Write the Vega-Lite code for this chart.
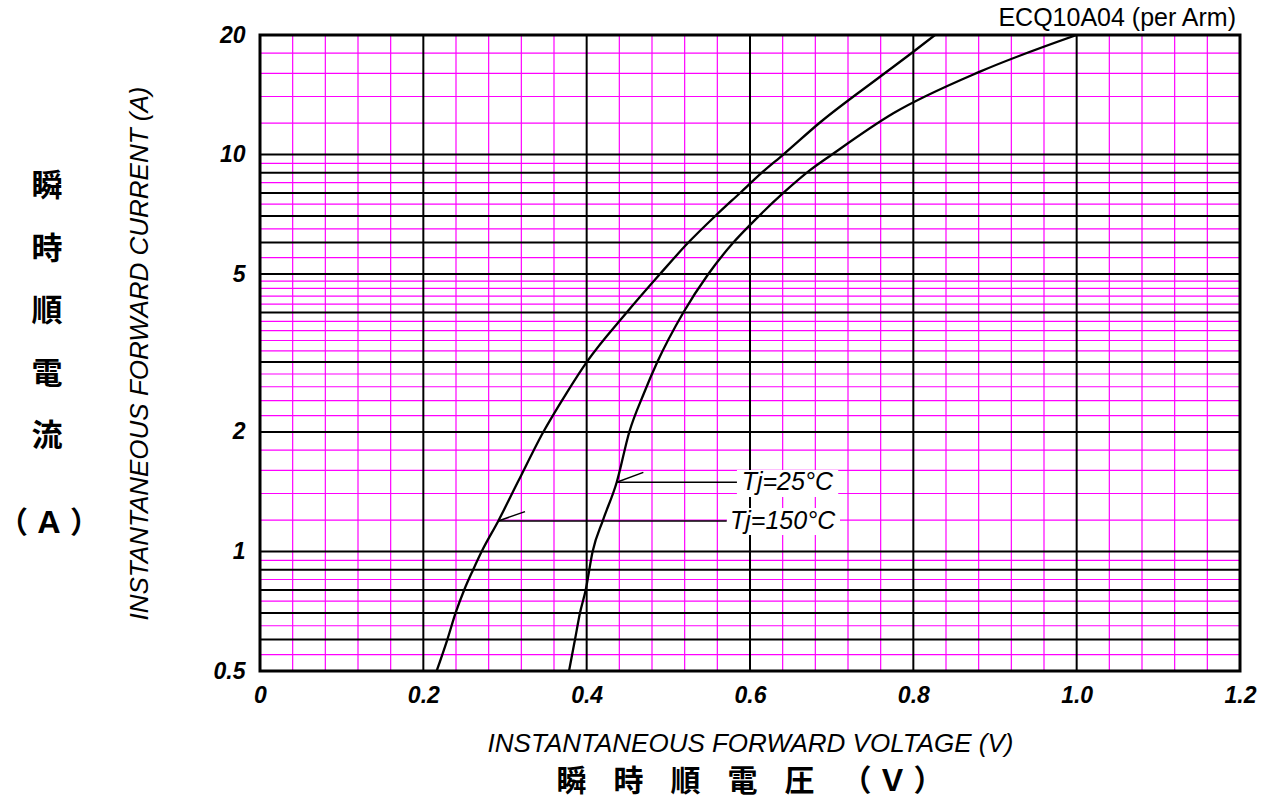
{
  "$schema": "https://vega.github.io/schema/vega-lite/v6.json",
  "width": 980,
  "height": 636,
  "autosize": {"type": "none"},
  "padding": {"left": 260, "top": 35, "right": 36, "bottom": 131},
  "background": "white",
  "title": {"text": "瞬\u2002\u2009\u2009時\u2002\u2009\u2009順\u2002\u2009\u2009電\u2002\u2009\u2009圧\u2002\u2009\u2009（\u2009Ｖ\u2009）", "orient": "bottom", "anchor": "middle", "frame": "group", "font": "Noto Sans CJK JP", "fontSize": 30, "fontWeight": "bold", "color": "black", "offset": 11},
  "config": {"view": {"stroke": null}, "axis": {"grid": false, "ticks": false, "domain": false}},
  "datasets": {
    "xminor": [{"v":0.04},{"v":0.08},{"v":0.12},{"v":0.16},{"v":0.24},{"v":0.28},{"v":0.32},{"v":0.36},{"v":0.44},{"v":0.48},{"v":0.52},{"v":0.56},{"v":0.64},{"v":0.68},{"v":0.72},{"v":0.76},{"v":0.84},{"v":0.88},{"v":0.92},{"v":0.96},{"v":1.04},{"v":1.08},{"v":1.12},{"v":1.16}],
    "xmajor": [{"v":0.2},{"v":0.4},{"v":0.6},{"v":0.8},{"v":1.0}],
    "yminor": [{"i":0.55},{"i":0.65},{"i":0.75},{"i":0.85},{"i":0.95},{"i":1.2},{"i":1.4},{"i":1.6},{"i":1.8},{"i":2.2},{"i":2.4},{"i":2.6},{"i":2.8},{"i":3.2},{"i":3.4},{"i":3.6},{"i":3.8},{"i":4.2},{"i":4.4},{"i":4.6},{"i":4.8},{"i":5.5},{"i":6.5},{"i":7.5},{"i":8.5},{"i":9.5},{"i":12},{"i":14},{"i":16},{"i":18}],
    "ymajor": [{"i":0.6},{"i":0.7},{"i":0.8},{"i":0.9},{"i":1},{"i":2},{"i":3},{"i":4},{"i":5},{"i":6},{"i":7},{"i":8},{"i":9},{"i":10}],
    "curves": [
      {"tj":"150","v":0.2163,"i":0.5},{"tj":"150","v":0.2294,"i":0.6},{"tj":"150","v":0.2395,"i":0.7},{"tj":"150","v":0.25,"i":0.8},{"tj":"150","v":0.261,"i":0.9},{"tj":"150","v":0.2714,"i":1.0},{"tj":"150","v":0.2918,"i":1.194},{"tj":"150","v":0.316,"i":1.5},{"tj":"150","v":0.3469,"i":2.0},{"tj":"150","v":0.375,"i":2.5},{"tj":"150","v":0.4,"i":3.0},{"tj":"150","v":0.449,"i":4.0},{"tj":"150","v":0.4898,"i":5.0},{"tj":"150","v":0.5245,"i":6.0},{"tj":"150","v":0.5575,"i":7.0},{"tj":"150","v":0.5878,"i":8.0},{"tj":"150","v":0.6145,"i":9.0},{"tj":"150","v":0.6408,"i":10.0},{"tj":"150","v":0.6857,"i":12.04},{"tj":"150","v":0.7592,"i":15.7},{"tj":"150","v":0.8,"i":18.15},{"tj":"150","v":0.8265,"i":20},
      {"tj":"25","v":0.3784,"i":0.5},{"tj":"25","v":0.3857,"i":0.6},{"tj":"25","v":0.3918,"i":0.7},{"tj":"25","v":0.3988,"i":0.8},{"tj":"25","v":0.4073,"i":1.0},{"tj":"25","v":0.42,"i":1.2},{"tj":"25","v":0.4368,"i":1.494},{"tj":"25","v":0.4522,"i":2.0},{"tj":"25","v":0.47,"i":2.5},{"tj":"25","v":0.4865,"i":3.0},{"tj":"25","v":0.5184,"i":4.0},{"tj":"25","v":0.549,"i":5.0},{"tj":"25","v":0.5796,"i":6.0},{"tj":"25","v":0.6008,"i":6.67},{"tj":"25","v":0.6408,"i":8.0},{"tj":"25","v":0.6735,"i":9.13},{"tj":"25","v":0.7004,"i":10.0},{"tj":"25","v":0.7755,"i":12.7},{"tj":"25","v":0.8816,"i":16.17},{"tj":"25","v":1.0,"i":20}
    ],
    "leaders": [
      {"v":0.4368,"i":1.494,"v2":0.5869,"i2":1.494},
      {"v":0.4368,"i":1.494,"v2":0.4694,"i2":1.582},
      {"v":0.2918,"i":1.194,"v2":0.5715,"i2":1.194},
      {"v":0.2918,"i":1.194,"v2":0.3245,"i2":1.26}
    ],
    "boxes": [
      {"v":0.584,"v2":0.708,"i":1.604,"i2":1.372},
      {"v":0.5718,"v2":0.7102,"i":1.287,"i2":1.10}
    ],
    "labels": [
      {"t":"Tj=25°C","v":0.5898,"i":1.494},
      {"t":"Tj=150°C","v":0.5755,"i":1.194}
    ],
    "frame": [{"v":0,"v2":1.2,"i":0.5,"i2":20}],
    "model": [{"t":"ECQ10A04 (per Arm)","v":1.2,"i":20}],
    "side": [{"v":-0.2608,"i":9.03}],
    "sideunit": [{"t":"（\u2009Ａ\u2009）","v":-0.2584,"i":1.173}]
  },
  "layer": [
    {
      "data": {"name": "xminor"},
      "mark": {"type": "rule", "color": "#ff00ff", "strokeWidth": 1.2},
      "encoding": {
        "x": {"field": "v", "type": "quantitative", "scale": {"domain": [0, 1.2], "nice": false, "zero": false},
          "axis": {"title": "INSTANTANEOUS FORWARD VOLTAGE (V)", "values": [0, 0.2, 0.4, 0.6, 0.8, 1.0, 1.2],
            "labelExpr": "datum.value == 0 ? '0' : format(datum.value, '.1f')",
            "labelFont": "Liberation Sans", "labelFontStyle": "italic", "labelFontWeight": "bold", "labelFontSize": 23, "labelColor": "black", "labelPadding": 13, "labelFlush": false, "labelOverlap": false,
            "titleFont": "Liberation Sans", "titleFontStyle": "italic", "titleFontWeight": "normal", "titleFontSize": 26, "titleColor": "black", "titlePadding": 23}}
      }
    },
    {
      "data": {"name": "yminor"},
      "mark": {"type": "rule", "color": "#ff00ff", "strokeWidth": 1.2},
      "encoding": {
        "y": {"field": "i", "type": "quantitative", "scale": {"type": "log", "domain": [0.5, 20], "nice": false, "zero": false},
          "axis": {"title": "INSTANTANEOUS FORWARD CURRENT (A)", "values": [0.5, 1, 2, 5, 10, 20], "format": "~g",
            "labelFont": "Liberation Sans", "labelFontStyle": "italic", "labelFontWeight": "bold", "labelFontSize": 23, "labelColor": "black", "labelPadding": 15, "labelFlush": false, "labelOverlap": false,
            "titleFont": "Liberation Sans", "titleFontStyle": "italic", "titleFontWeight": "normal", "titleFontSize": 26, "titleColor": "black", "titlePadding": 61}}
      }
    },
    {
      "data": {"name": "xmajor"},
      "mark": {"type": "rule", "color": "black", "strokeWidth": 2},
      "encoding": {"x": {"field": "v", "type": "quantitative"}}
    },
    {
      "data": {"name": "ymajor"},
      "mark": {"type": "rule", "color": "black", "strokeWidth": 2},
      "encoding": {"y": {"field": "i", "type": "quantitative"}}
    },
    {
      "data": {"name": "curves"},
      "mark": {"type": "line", "color": "black", "strokeWidth": 2.3, "interpolate": "monotone", "clip": true},
      "encoding": {
        "x": {"field": "v", "type": "quantitative"},
        "y": {"field": "i", "type": "quantitative"},
        "detail": {"field": "tj"}
      }
    },
    {
      "data": {"name": "leaders"},
      "mark": {"type": "rule", "color": "black", "strokeWidth": 1.5},
      "encoding": {
        "x": {"field": "v", "type": "quantitative"},
        "x2": {"field": "v2"},
        "y": {"field": "i", "type": "quantitative"},
        "y2": {"field": "i2"}
      }
    },
    {
      "data": {"name": "boxes"},
      "mark": {"type": "rect", "color": "white", "opacity": 1},
      "encoding": {
        "x": {"field": "v", "type": "quantitative"},
        "x2": {"field": "v2"},
        "y": {"field": "i", "type": "quantitative"},
        "y2": {"field": "i2"}
      }
    },
    {
      "data": {"name": "labels"},
      "mark": {"type": "text", "align": "left", "baseline": "middle", "font": "Liberation Sans", "fontStyle": "italic", "fontSize": 25, "color": "black"},
      "encoding": {
        "x": {"field": "v", "type": "quantitative"},
        "y": {"field": "i", "type": "quantitative"},
        "text": {"field": "t"}
      }
    },
    {
      "data": {"name": "model"},
      "mark": {"type": "text", "align": "right", "baseline": "alphabetic", "dx": -4, "dy": -9, "font": "Liberation Sans", "fontSize": 25, "color": "black"},
      "encoding": {
        "x": {"field": "v", "type": "quantitative"},
        "y": {"field": "i", "type": "quantitative"},
        "text": {"field": "t"}
      }
    },
    {
      "data": {"name": "side"},
      "mark": {"type": "text", "align": "center", "baseline": "top", "font": "Noto Sans CJK JP", "fontWeight": "bold", "fontSize": 31, "lineHeight": 62.5, "color": "black"},
      "encoding": {
        "x": {"field": "v", "type": "quantitative"},
        "y": {"field": "i", "type": "quantitative"},
        "text": {"value": ["瞬", "時", "順", "電", "流"]}
      }
    },
    {
      "data": {"name": "sideunit"},
      "mark": {"type": "text", "align": "center", "baseline": "middle", "font": "Noto Sans CJK JP", "fontWeight": "bold", "fontSize": 30, "color": "black"},
      "encoding": {
        "x": {"field": "v", "type": "quantitative"},
        "y": {"field": "i", "type": "quantitative"},
        "text": {"field": "t"}
      }
    },
    {
      "data": {"name": "frame"},
      "mark": {"type": "rect", "filled": false, "stroke": "black", "strokeWidth": 3},
      "encoding": {
        "x": {"field": "v", "type": "quantitative"},
        "x2": {"field": "v2"},
        "y": {"field": "i", "type": "quantitative"},
        "y2": {"field": "i2"}
      }
    }
  ]
}
